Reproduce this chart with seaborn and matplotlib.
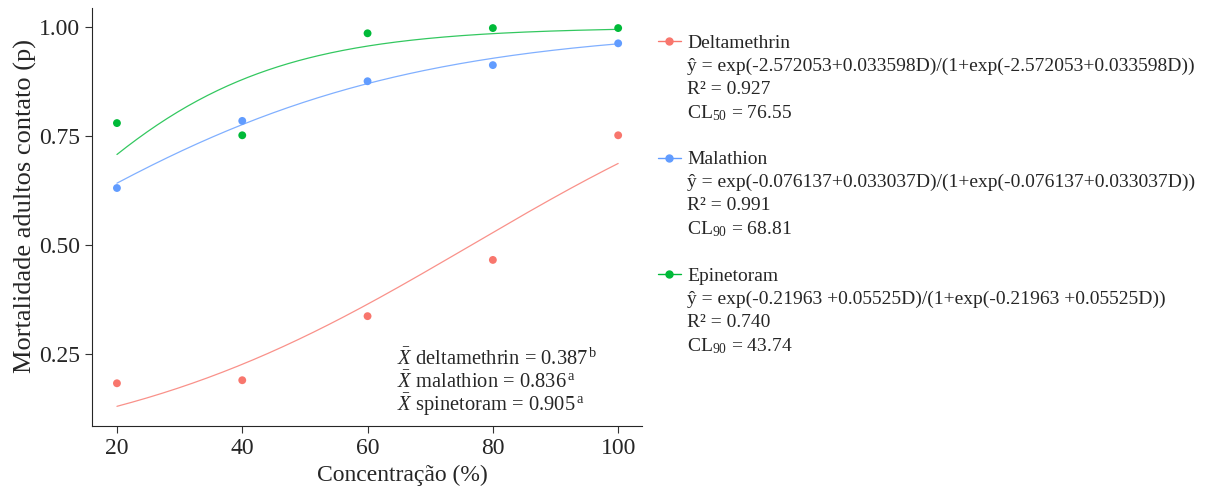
import numpy as np
import pandas as pd
import matplotlib
matplotlib.use("Agg")
import matplotlib.pyplot as plt
import seaborn as sns
from matplotlib.lines import Line2D

# Dados
concentracao = [20, 40, 60, 80, 100]
deltamethrin = [0.183, 0.190, 0.337, 0.466, 0.752]
malathion = [0.631, 0.785, 0.876, 0.913, 0.963]
epinetoram = [0.780, 0.752, 0.986, 0.998, 0.998]

# Coeficientes dos modelos logísticos (intercepto, inclinação)
coef_deltamethrin = (-2.572053, 0.033598)
coef_malathion = (-0.076137, 0.033037)
coef_epinetoram = (-0.21963, 0.05525)

inseticidas = ["Deltamethrin", "Malathion", "Epinetoram"]
cores = {"Deltamethrin": "#F8766D", "Malathion": "#619CFF", "Epinetoram": "#00BA38"}

legenda_textos = {
    "Deltamethrin": ["Deltamethrin",
                     "ŷ = exp(-2.572053+0.033598D)/(1+exp(-2.572053+0.033598D))",
                     "R² = 0.927", "CL$_{50}$ = 76.55"],
    "Malathion": ["Malathion",
                  "ŷ = exp(-0.076137+0.033037D)/(1+exp(-0.076137+0.033037D))",
                  "R² = 0.991", "CL$_{90}$ = 68.81"],
    "Epinetoram": ["Epinetoram",
                   "ŷ = exp(-0.21963 +0.05525D)/(1+exp(-0.21963 +0.05525D))",
                   "R² = 0.740", "CL$_{90}$ = 43.74"],
}

medias = ["$\\bar{X}$ deltamethrin = 0.387$^{\\,\\rm b}$",
          "$\\bar{X}$ malathion = 0.836$^{\\,\\rm a}$",
          "$\\bar{X}$ spinetoram = 0.905$^{\\,\\rm a}$"]

# DataFrames
pontos = pd.DataFrame({
    "conc": concentracao * 3,
    "p": deltamethrin + malathion + epinetoram,
    "inseticida": ["Deltamethrin"] * 5 + ["Malathion"] * 5 + ["Epinetoram"] * 5,
})

def logistico(x, coef):
    z = np.exp(coef[0] + coef[1] * x)
    return z / (1 + z)

grade = np.linspace(20, 100, 200)
curvas = pd.concat([
    pd.DataFrame({"conc": grade, "p": logistico(grade, c), "inseticida": n})
    for n, c in zip(inseticidas, [coef_deltamethrin, coef_malathion, coef_epinetoram])
])

sns.set_style("ticks")
plt.rcParams["font.family"] = ["Liberation Serif", "DejaVu Serif"]
plt.rcParams["mathtext.fontset"] = "custom"
plt.rcParams["mathtext.rm"] = "Liberation Serif"
plt.rcParams["mathtext.it"] = "Liberation Serif:italic"

fig = plt.figure(figsize=(12.09, 4.86), dpi=100)
ax = fig.add_axes([0.076, 0.1235, 0.455, 0.86])

sns.lineplot(data=curvas, x="conc", y="p", hue="inseticida", palette=cores,
             linewidth=0.9, alpha=0.8, legend=False, ax=ax)
sns.scatterplot(data=pontos, x="conc", y="p", hue="inseticida", palette=cores,
                s=32, edgecolor="none", legend=False, ax=ax)

ax.set_xlim(16, 103.8)
ax.set_ylim(0.085, 1.044)
ax.set_xticks([20, 40, 60, 80, 100])
ax.set_yticks([0.25, 0.50, 0.75, 1.00])
ax.set_yticklabels(["0.25", "0.50", "0.75", "1.00"])
ax.tick_params(labelsize=17, length=5, color="#333333")
ax.tick_params(axis="x", pad=4)
ax.set_xlabel("Concentração (%)", fontsize=17)
ax.set_ylabel("Mortalidade adultos contato (p)", fontsize=19)
ax.xaxis.set_label_coords(0.565, -0.092)
ax.yaxis.set_label_coords(-0.10, 0.526)
sns.despine(ax=ax)

for i, t in enumerate(medias):
    ax.text(0.555, 0.16 - i * 0.055, t, transform=ax.transAxes, fontsize=14.8, va="center")

# Legenda com blocos de texto
handles, labels = [], []
for k, n in enumerate(inseticidas):
    if k > 0:
        handles.append(Line2D([], [], color="none"))
        labels.append(" ")
    for j, linha in enumerate(legenda_textos[n]):
        if j == 0:
            handles.append(Line2D([0], [0], color=cores[n], marker="o", markersize=5, lw=1))
        else:
            handles.append(Line2D([], [], color="none"))
        labels.append(linha)

fig.legend(handles, labels, loc="upper left", bbox_to_anchor=(0.536, 0.95),
           frameon=False, fontsize=14.0, handlelength=1.2, handletextpad=0.3,
           labelspacing=0.273, borderpad=0)

fig.savefig("out.png", dpi=100)
